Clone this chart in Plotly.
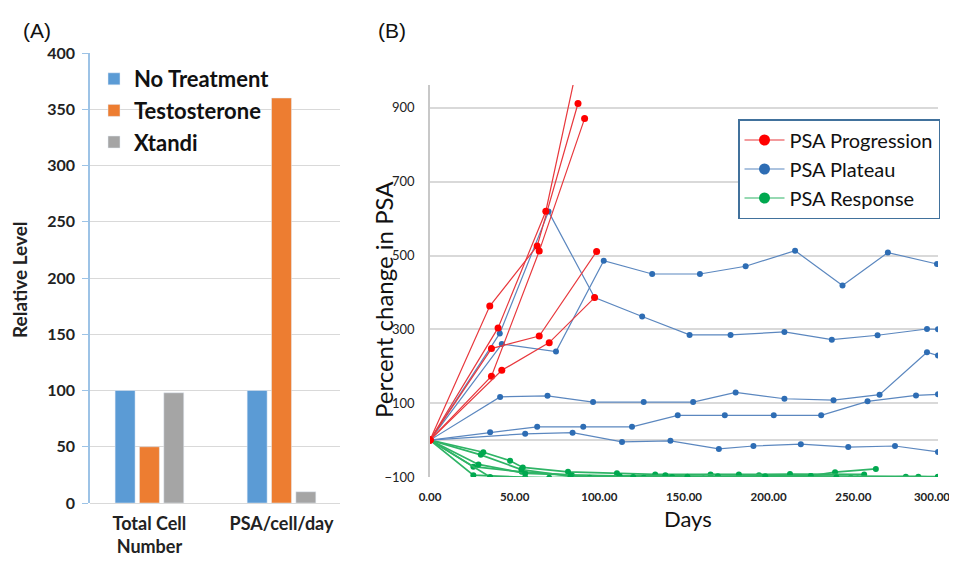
import plotly.graph_objects as go

# ---------------- Panel A data ----------------
categories_a = ["Total Cell<br>Number", "PSA/cell/day"]
no_treatment = [100, 100]
testosterone = [50, 360]
xtandi = [98, 10]

# ---------------- Panel B data ----------------
prog_days = [
    [0, 35.3, 63.3, 87.4],
    [0, 40.2, 68.4, 86.5],
    [0, 36.3, 64.5, 98.4],
    [0, 36.3, 64.5, 91.3],
    [0, 42.4, 70.4, 97.2],
]
prog_vals = [
    [0, 363, 526, 912],
    [0, 304, 620, 1005],
    [0, 248, 282, 511],
    [0, 173, 512, 871],
    [0, 189, 264, 386],
]
plat_days = [
    [0, 42.4, 74.4, 102.6, 131.2, 159.4, 186.4, 215.6, 243.6, 270.4, 299.4],
    [0, 41.2, 70, 97.2, 125.3, 153.3, 177.5, 209.3, 237.3, 264.3, 293.5, 300],
    [0, 41.4, 69.4, 96.3, 126.2, 155.4, 180.5, 209.3, 238.3, 265.5, 293.5, 300],
    [0, 35.5, 63.3, 90.5, 119.3, 146.3, 174.1, 203, 231, 258.4, 287, 300],
    [0, 56.2, 84.2, 113.4, 142, 170.6, 191, 219, 247, 274.6, 300],
]
plat_vals = [
    [0, 260, 240, 486, 450, 450, 471, 513, 419, 508, 477],
    [0, 289, 619, 386, 335, 285, 285, 293, 272, 284, 301, 300],
    [0, 117, 120, 103, 103, 103, 129, 112, 108, 123, 238, 229],
    [0, 21, 36, 36, 36, 67, 67, 67, 67, 105, 121, 124],
    [0, 17, 20, -5, -2, -24, -16, -11, -19, -16, -32],
]
resp_days = [
    [0, 31.5, 47.3, 54.8, 81.5, 110.4, 133, 165.7, 194.3, 224.9, 239.2, 263.3],
    [0, 25.6, 54.2, 83.8, 112, 139, 182.4, 212.6, 256.4],
    [0, 28.6, 56.2, 111.8, 161.4, 197, 248.5, 281, 300],
    [0, 25.6, 56.2, 94.3, 126.2, 185.4, 217.3, 252.5, 288.4, 300],
    [0, 35.5, 70.4, 83.8, 143, 170, 224.9, 300],
    [0, 30, 54, 83, 120, 152, 198, 240],
]
resp_vals = [
    [0, -33, -56, -74, -86, -90, -93, -93, -95, -97, -87, -78],
    [0, -72, -86, -95, -97, -95, -93, -92, -93],
    [0, -66, -90, -99, -104, -100, -102, -99, -100],
    [0, -95, -101, -102, -102, -104, -104, -104, -99, -100],
    [0, -100, -102, -101, -100, -98, -97, -99],
    [0, -40, -80, -98, -100, -99, -98, -101],
]
x_ticks_b = [0, 50, 100, 150, 200, 250]
x_tick_last_b = [300]
y_ticks_b = [-100, 100, 300, 500, 700, 900]

FONT = "Lato"
OFF = 8  # default page body margin
W, H = 957 - OFF, 561 - OFF


def X(px):
    return (px - OFF) / W


def Y(py):
    return 1 - (py - OFF) / H


fig = go.Figure()

bar_specs = [
    ("No Treatment", no_treatment, "#5b9bd5"),
    ("Testosterone", testosterone, "#ed7d31"),
    ("Xtandi", xtandi, "#a5a5a5"),
]
for name, vals, col in bar_specs:
    fig.add_trace(go.Bar(
        x=categories_a, y=vals, name=name, marker_color=col,
        xaxis="x", yaxis="y", legend="legend", legendgroup=name,
    ))

groups = [
    ("PSA Progression", prog_days, prog_vals, "#e8383d", "#ff0000", 1.2, 7),
    ("PSA Plateau", plat_days, plat_vals, "#5b87bf", "#2e6db4", 1.2, 6),
    ("PSA Response", resp_days, resp_vals, "#2fb466", "#00a84f", 1.7, 6),
]
for name, days, vals, lcol, mcol, lw, ms in [groups[2], groups[1], groups[0]]:
    for d, v in zip(days, vals):
        fig.add_trace(go.Scatter(
            x=d, y=v, mode="lines+markers", showlegend=False,
            line=dict(color=lcol, width=lw),
            marker=dict(color=mcol, size=ms),
            xaxis="x2", yaxis="y2", legendgroup=name,
        ))
for name, days, vals, lcol, mcol, lw, ms in groups:
    fig.add_trace(go.Scatter(
        x=[None], y=[None], mode="lines+markers", name=name,
        line=dict(color=lcol, width=1.2),
        marker=dict(color=mcol, size=11),
        xaxis="x2", yaxis="y2", legend="legend2", legendgroup=name,
    ))
# helper (empty) trace so the overlay axis carrying the last tick label is drawn
fig.add_trace(go.Scatter(x=[None], y=[None], xaxis="x3", yaxis="y2",
                         showlegend=False, hoverinfo="skip"))

grid = "#d9d9d9"
xtick_font_b = dict(size=11.5, family=FONT, weight="bold", color="#222222")
fig.update_layout(
    width=W, height=H, autosize=False,
    margin=dict(l=0, r=0, t=0, b=0, pad=0, autoexpand=False),
    paper_bgcolor="white", plot_bgcolor="white",
    font=dict(family=FONT, color="#222222"),
    barmode="group", bargap=0.447, bargroupgap=0.18,
    xaxis=dict(
        domain=[X(90), X(340)], range=[-0.45, 1.443], anchor="y",
        showgrid=False, showline=False, ticks="", automargin=False,
        tickfont=dict(size=18, family=FONT, weight="bold", color="#222222"),
        ticklabelstandoff=8,
    ),
    yaxis=dict(
        domain=[Y(503), Y(53)], range=[0, 400], anchor="x",
        tickvals=[0, 50, 100, 150, 200, 250, 300, 350, 400],
        showgrid=True, gridcolor=grid, gridwidth=1,
        zeroline=True, zerolinecolor=grid, zerolinewidth=1,
        showline=True, linecolor="#9dc3e6", linewidth=1.5,
        ticks="outside", tickcolor="#9dc3e6", ticklen=6, automargin=False,
        tickfont=dict(size=16, family=FONT, weight="bold", color="#222222"),
        ticklabelstandoff=4,
    ),
    xaxis2=dict(
        domain=[X(430), X(938)], range=[0, 300], anchor="y2",
        tickvals=x_ticks_b, tickformat=".2f",
        showgrid=False, showline=False, zeroline=False, ticks="", automargin=False,
        tickfont=xtick_font_b,
        ticklabelstandoff=11, ticklabeloverflow="allow",
    ),
    xaxis3=dict(
        domain=[X(430), X(938)], range=[0, 300], anchor="y2", overlaying="x2",
        tickvals=x_tick_last_b, tickformat=".2f", side="bottom",
        showgrid=False, showline=False, zeroline=False, ticks="", automargin=False,
        tickfont=xtick_font_b,
        ticklabelstandoff=11, ticklabeloverflow="allow", ticklabelshift=-6,
    ),
    yaxis2=dict(
        domain=[Y(477), Y(85)], range=[-100, 962], anchor="x2",
        tickvals=y_ticks_b,
        showgrid=True, gridcolor=grid, gridwidth=1.5,
        zeroline=True, zerolinecolor=grid, zerolinewidth=1.5,
        showline=True, linecolor="#c8c8c8", linewidth=1.5, automargin=False,
        ticks="", tickfont=dict(size=13, family=FONT, color="#222222"),
        ticklabelstandoff=11,
    ),
    legend=dict(
        x=X(94), y=Y(58), xanchor="left", yanchor="top",
        font=dict(size=22, family=FONT, weight="bold", color="#111111"),
        bgcolor="rgba(0,0,0,0)", tracegroupgap=0, itemwidth=30,
    ),
    legend2=dict(
        x=X(738), y=Y(119), xanchor="left", yanchor="top",
        font=dict(size=20, family=FONT, color="#111111"),
        bgcolor="white", bordercolor="#41719c", borderwidth=1.5,
        tracegroupgap=0, itemwidth=40,
    ),
    annotations=[
        dict(text="(A)", x=X(37), y=Y(30), xref="paper", yref="paper",
             xanchor="center", yanchor="middle",
             showarrow=False, font=dict(size=21, family="Liberation Sans", color="#111111")),
        dict(text="(B)", x=X(392), y=Y(30), xref="paper", yref="paper",
             xanchor="center", yanchor="middle",
             showarrow=False, font=dict(size=21, family="Liberation Sans", color="#111111")),
        dict(text="Relative Level", x=X(20), y=Y(280), xref="paper", yref="paper",
             xanchor="center", yanchor="middle", showarrow=False, textangle=-90,
             font=dict(size=19, family=FONT, weight="bold", color="#222222")),
        dict(text="Percent change in PSA", x=X(383), y=Y(300), xref="paper", yref="paper",
             xanchor="center", yanchor="middle", showarrow=False, textangle=-90,
             font=dict(size=24, family=FONT, color="#111111")),
        dict(text="Days", x=X(688), y=Y(518), xref="paper", yref="paper",
             xanchor="center", yanchor="middle", showarrow=False,
             font=dict(size=22, family=FONT, color="#111111")),
    ],
)

fig.write_html("out.html")
